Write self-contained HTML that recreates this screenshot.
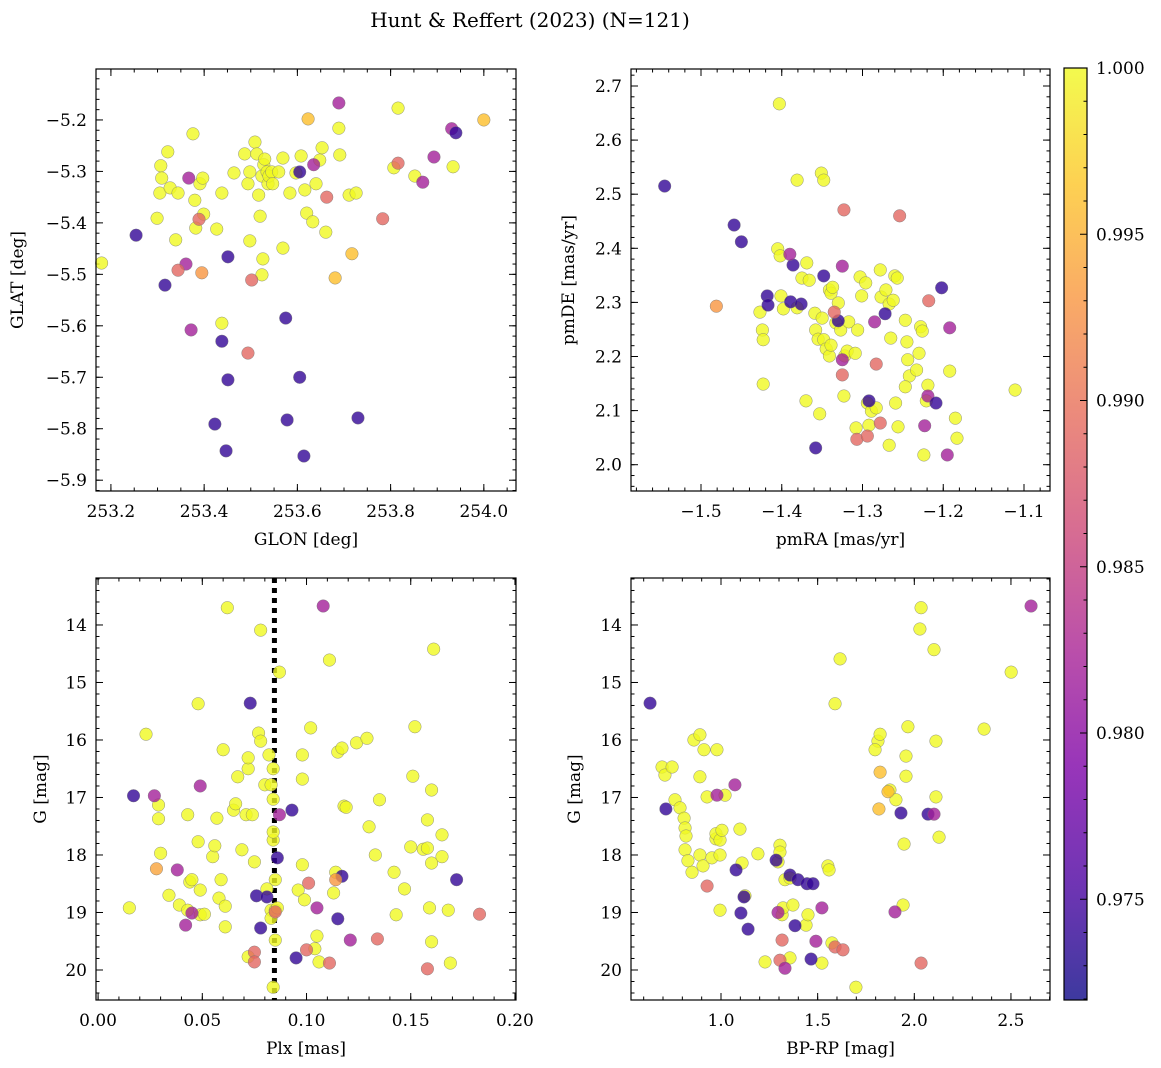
<!DOCTYPE html>
<html><head><meta charset="utf-8">
<style>
html,body{margin:0;padding:0;background:#fff;}
svg{display:block;font-family:"DejaVu Serif","Liberation Serif",serif;}
</style></head>
<body>
<svg id="fig" width="1161" height="1068" viewBox="0 0 1161 1068" xmlns="http://www.w3.org/2000/svg">
<defs>
<linearGradient id="plasma" x1="0" y1="1" x2="0" y2="0">
<stop offset="0" stop-color="#0d0887"/><stop offset="0.125" stop-color="#4c02a1"/><stop offset="0.25" stop-color="#7e03a8"/><stop offset="0.375" stop-color="#a92395"/><stop offset="0.5" stop-color="#cc4778"/><stop offset="0.625" stop-color="#e66c5c"/><stop offset="0.75" stop-color="#f89540"/><stop offset="0.875" stop-color="#fdc527"/><stop offset="1" stop-color="#f0f921"/>
</linearGradient>
</defs>
<text x="530" y="27" font-size="20" text-anchor="middle">Hunt &amp; Reffert (2023) (N=121)</text>
</svg>
<script>
// ---- data (probability classes: P=0.974, M=0.982, S=0.989, O=0.996, Y=1.0) ----
const glonY=[253.305,253.299,253.307,253.309,253.322,253.327,253.344,253.339,253.376,253.380,253.382,253.391,253.397,253.399,253.427,253.438,253.438,253.464,253.487,253.494,253.498,253.498,253.509,253.513,253.517,253.520,253.524,253.528,253.530,253.535,253.537,253.539,253.545,253.547,253.560,253.569,253.526,253.524,253.569,253.584,253.597,253.608,253.616,253.620,253.633,253.640,253.648,253.653,253.661,253.689,253.691,253.711,253.726,253.807,253.816,253.852,253.934,253.18];
const glatY=[-5.342,-5.391,-5.289,-5.313,-5.262,-5.332,-5.342,-5.433,-5.227,-5.356,-5.410,-5.324,-5.313,-5.383,-5.412,-5.342,-5.595,-5.303,-5.266,-5.324,-5.301,-5.435,-5.243,-5.266,-5.346,-5.387,-5.309,-5.287,-5.276,-5.301,-5.324,-5.309,-5.301,-5.324,-5.301,-5.274,-5.470,-5.501,-5.449,-5.342,-5.303,-5.270,-5.336,-5.381,-5.398,-5.324,-5.278,-5.254,-5.418,-5.216,-5.268,-5.346,-5.342,-5.293,-5.177,-5.309,-5.291,-5.478];
const glonC=[253.254,253.316,253.367,253.372,253.361,253.344,253.389,253.395,253.451,253.438,253.451,253.423,253.447,253.494,253.502,253.575,253.578,253.605,253.614,253.605,253.635,253.663,253.689,253.730,253.783,253.816,253.869,253.893,253.931,253.940,254.000,253.623,253.717,253.681];
const glatC=[-5.424,-5.521,-5.313,-5.608,-5.480,-5.492,-5.393,-5.497,-5.466,-5.630,-5.705,-5.791,-5.843,-5.653,-5.511,-5.585,-5.783,-5.700,-5.853,-5.301,-5.287,-5.350,-5.167,-5.779,-5.392,-5.284,-5.321,-5.272,-5.217,-5.225,-5.200,-5.198,-5.460,-5.507];
const probC1=[0.974,0.974,0.982,0.982,0.982,0.989,0.989,0.993,0.974,0.974,0.974,0.974,0.974,0.989,0.989,0.974,0.974,0.974,0.974,0.974,0.982,0.989,0.982,0.974,0.989,0.989,0.982,0.982,0.982,0.974,0.996,0.996,0.996,0.996];

const pmraY=[-1.403,-1.381,-1.351,-1.348,-1.405,-1.402,-1.427,-1.424,-1.423,-1.423,-1.401,-1.398,-1.381,-1.369,-1.375,-1.366,-1.359,-1.358,-1.355,-1.350,-1.348,-1.345,-1.341,-1.339,-1.341,-1.339,-1.337,-1.333,-1.330,-1.327,-1.322,-1.317,-1.319,-1.309,-1.306,-1.303,-1.301,-1.296,-1.294,-1.289,-1.278,-1.277,-1.271,-1.267,-1.265,-1.260,-1.257,-1.247,-1.245,-1.244,-1.242,-1.247,-1.259,-1.256,-1.267,-1.228,-1.226,-1.230,-1.233,-1.219,-1.221,-1.224,-1.192,-1.185,-1.183,-1.111,-1.370,-1.353,-1.323,-1.283,-1.292,-1.308,-1.262];
const pmdeY=[2.667,2.526,2.539,2.526,2.399,2.386,2.282,2.249,2.231,2.149,2.312,2.288,2.290,2.373,2.345,2.341,2.280,2.249,2.232,2.271,2.231,2.214,2.201,2.221,2.323,2.317,2.328,2.262,2.299,2.249,2.201,2.264,2.210,2.206,2.249,2.347,2.312,2.336,2.114,2.099,2.360,2.310,2.323,2.297,2.234,2.349,2.345,2.267,2.227,2.194,2.164,2.144,2.114,2.070,2.036,2.255,2.247,2.206,2.175,2.147,2.118,2.018,2.173,2.086,2.049,2.138,2.118,2.094,2.127,2.105,2.073,2.068,2.304];
const pmraC=[-1.545,-1.459,-1.450,-1.418,-1.417,-1.389,-1.386,-1.390,-1.376,-1.348,-1.330,-1.292,-1.272,-1.202,-1.219,-1.209,-1.223,-1.195,-1.192,-1.358,-1.481,-1.323,-1.254,-1.218,-1.325,-1.283,-1.307,-1.294,-1.278,-1.335,-1.325,-1.285,-1.325];
const pmdeC=[2.515,2.443,2.412,2.312,2.295,2.301,2.369,2.389,2.297,2.349,2.266,2.118,2.279,2.327,2.127,2.114,2.072,2.018,2.253,2.031,2.293,2.471,2.460,2.303,2.166,2.186,2.047,2.053,2.077,2.282,2.367,2.264,2.194];
const probC2=[0.974,0.974,0.974,0.974,0.974,0.974,0.974,0.982,0.974,0.974,0.974,0.974,0.974,0.974,0.982,0.974,0.982,0.982,0.982,0.974,0.993,0.989,0.989,0.989,0.989,0.989,0.989,0.989,0.989,0.989,0.982,0.982,0.982];

const plxY=[0.015,0.023,0.029,0.029,0.030,0.034,0.039,0.043,0.043,0.044,0.045,0.048,0.048,0.049,0.049,0.051,0.055,0.056,0.057,0.058,0.059,0.060,0.061,0.061,0.062,0.065,0.066,0.067,0.069,0.071,0.072,0.072,0.072,0.074,0.075,0.077,0.078,0.078,0.080,0.081,0.082,0.083,0.083,0.083,0.084,0.084,0.084,0.084,0.085,0.084,0.085,0.085,0.086,0.087,0.096,0.098,0.098,0.098,0.099,0.102,0.104,0.106,0.105,0.111,0.113,0.114,0.115,0.117,0.118,0.119,0.124,0.129,0.130,0.133,0.135,0.142,0.143,0.147,0.150,0.151,0.152,0.156,0.158,0.158,0.159,0.160,0.160,0.160,0.161,0.165,0.165,0.168,0.169];
const gY3=[18.92,15.90,17.13,17.37,17.97,18.70,18.87,18.96,17.30,18.47,18.43,17.77,15.37,19.04,18.61,19.03,18.03,17.84,17.36,18.75,18.43,16.17,18.89,19.25,13.70,17.22,17.11,16.64,17.91,17.30,16.50,19.77,16.31,17.30,18.12,15.88,14.09,16.02,16.78,18.59,16.26,16.78,18.96,19.10,17.74,17.60,16.50,17.03,18.43,20.30,18.96,19.48,18.92,14.82,18.61,16.26,16.68,18.17,18.78,15.79,19.63,19.86,19.41,14.61,18.66,18.30,16.21,16.14,17.15,17.17,16.05,15.97,17.51,18.00,17.04,18.30,19.04,18.59,17.86,16.63,15.77,17.90,17.39,17.88,18.92,16.87,18.14,19.51,14.42,17.65,18.03,18.96,19.88];
const plxC=[0.017,0.027,0.028,0.038,0.042,0.045,0.049,0.073,0.075,0.075,0.076,0.078,0.081,0.085,0.087,0.086,0.093,0.095,0.101,0.100,0.105,0.108,0.111,0.117,0.115,0.121,0.114,0.134,0.158,0.172,0.183];
const gC3=[16.97,16.97,18.24,18.26,19.22,19.01,16.80,15.36,19.69,19.86,18.71,19.27,18.73,18.99,17.30,18.05,17.22,19.79,18.49,19.65,18.92,13.67,19.88,18.37,19.11,19.48,18.43,19.46,19.98,18.43,19.03];
const probC3=[0.974,0.982,0.994,0.982,0.982,0.982,0.982,0.974,0.989,0.989,0.974,0.974,0.974,0.989,0.982,0.974,0.974,0.974,0.989,0.989,0.982,0.982,0.989,0.974,0.974,0.982,0.993,0.989,0.989,0.974,0.989];
const plxMedian=0.0846;

const bprpY=[0.695,0.710,0.747,0.762,0.788,0.809,0.814,0.819,0.814,0.829,0.850,0.860,0.891,0.891,0.912,0.928,0.891,0.907,0.953,0.974,0.974,0.979,0.995,0.995,0.995,1.005,1.021,1.098,1.109,1.124,1.191,1.228,1.295,1.305,1.305,1.316,1.321,1.331,1.357,1.357,1.372,1.440,1.450,1.522,1.553,1.559,1.574,1.590,1.616,1.812,1.797,1.823,1.874,1.947,1.942,1.957,1.957,1.967,2.035,2.029,2.102,2.112,2.112,2.128,2.361,2.501,1.905,1.698];
const gY4=[16.47,16.61,16.47,17.04,17.18,17.36,17.53,17.67,17.91,18.10,18.30,16.00,15.91,16.64,16.17,16.99,18.00,18.19,18.05,17.72,17.63,16.17,17.74,18.00,18.96,17.57,16.96,17.55,18.14,18.71,17.98,19.86,18.12,17.83,17.95,19.04,18.92,18.43,19.79,18.40,18.87,19.22,19.04,19.88,18.19,18.26,19.53,15.37,14.59,16.02,16.17,15.90,16.87,17.81,18.87,16.28,16.63,15.77,13.70,14.07,14.43,16.02,16.99,17.69,15.81,14.82,17.04,20.30];
const bprpC=[0.633,0.715,0.979,1.072,0.928,1.078,1.119,1.103,1.140,1.285,1.357,1.398,1.445,1.476,1.466,1.383,1.295,1.522,1.491,1.316,1.305,1.331,1.590,1.631,2.071,2.102,1.931,1.900,2.035,2.604,1.823,1.864,1.817];
const gC4=[15.36,17.20,16.96,16.78,18.54,18.26,18.73,19.01,19.29,18.09,18.35,18.43,18.50,18.50,19.81,19.23,19.00,18.92,19.50,19.48,19.83,19.97,19.60,19.65,17.29,17.29,17.27,18.99,19.88,13.67,16.56,16.90,17.20];
const probC4=[0.974,0.974,0.982,0.982,0.989,0.974,0.974,0.974,0.974,0.974,0.974,0.974,0.974,0.974,0.974,0.974,0.982,0.982,0.982,0.989,0.989,0.982,0.989,0.989,0.974,0.982,0.974,0.982,0.989,0.982,0.996,0.996,0.996];

const cbTicks=["0.975","0.980","0.985","0.990","0.995","1.000"];
const VMIN=0.97197, VMAX=1.0;

const NS="http://www.w3.org/2000/svg";
const svg=document.getElementById('fig');
function el(tag,attrs,parent){const e=document.createElementNS(NS,tag);for(const k in attrs)e.setAttribute(k,attrs[k]);(parent||svg).appendChild(e);return e;}
const stops=[[13,8,135],[76,2,161],[126,3,168],[169,35,149],[204,71,120],[230,108,92],[248,149,64],[253,197,39],[240,249,33]];
function plasma(p){let t=(p-VMIN)/(VMAX-VMIN);t=Math.max(0,Math.min(1,t));const f=t*8,i=Math.min(7,Math.floor(f)),r=f-i;const a=stops[i],b=stops[i+1];return `rgb(${a.map((v,k)=>Math.round(v+(b[k]-v)*r)).join(',')})`;}
function fmt(v,d){let s=v.toFixed(d);if(Math.abs(v)<1e-9)s=(0).toFixed(d);return s.replace('-','\u2212');}

function panel(cfg){
  const {x0,y0,x1,y1,xmin,xmax,ymin,ymax,name}=cfg;
  const g=el('g',{});
  
  
  const sx=v=>x0+(v-xmin)/(xmax-xmin)*(x1-x0);
  const sy=v=>y1-(v-ymin)/(ymax-ymin)*(y1-y0);
  const ticks=(a,b,step)=>{const lo=Math.min(a,b),hi=Math.max(a,b);const out=[];let s=Math.ceil(lo/step-1e-9);for(let v=s*step;v<=hi+1e-9;v=(++s)*step)out.push(v);return out;};
  const tg=el('g',{stroke:'#000','stroke-width':1},g);
  
  
  ticks(xmin,xmax,cfg.xminor).forEach(v=>{const x=sx(v);el('line',{x1:x,x2:x,y1:y1,y2:y1-3.5},tg);el('line',{x1:x,x2:x,y1:y0,y2:y0+3.5},tg);});
  ticks(ymin,ymax,cfg.yminor).forEach(v=>{const y=sy(v);el('line',{x1:x0,x2:x0+3.5,y1:y,y2:y},tg);el('line',{x1:x1,x2:x1-3.5,y1:y,y2:y},tg);});
  ticks(xmin,xmax,cfg.xmajor).forEach(v=>{const x=sx(v);el('line',{x1:x,x2:x,y1:y1,y2:y1-7},tg);el('line',{x1:x,x2:x,y1:y0,y2:y0+7},tg);
    const t=el('text',{x:x,y:y1+26,'font-size':17,'text-anchor':'middle'},g);t.textContent=fmt(v,cfg.xdec);
    
    });
  ticks(ymin,ymax,cfg.ymajor).forEach(v=>{const y=sy(v);el('line',{x1:x0,x2:x0+7,y1:y,y2:y},tg);el('line',{x1:x1,x2:x1-7,y1:y,y2:y},tg);
    const t=el('text',{x:x0-9,y:y+6,'font-size':17,'text-anchor':'end'},g);t.textContent=fmt(v,cfg.ydec);
    
    });
  if(cfg.vline!==undefined){const l=el('line',{x1:sx(cfg.vline),x2:sx(cfg.vline),y1:y0,y2:y1,stroke:'#000','stroke-width':5,'stroke-dasharray':'5,5'},g);
    
    }
  const pg=el('g',{},g);
  
  
  const draw=(xs,ys,ps)=>xs.forEach((xv,i)=>{const c=el('circle',{cx:sx(xv),cy:sy(ys[i]),r:6.3,fill:plasma(ps?ps[i]:1.0),'fill-opacity':0.8,stroke:'#777','stroke-width':0.5,'stroke-opacity':0.8},pg);
    
    });
  draw(cfg.xs,cfg.ys,null);
  draw(cfg.xc,cfg.yc,cfg.pc);
  const fr=el('rect',{x:x0,y:y0,width:x1-x0,height:y1-y0,fill:'none',stroke:'#000','stroke-width':1.2},g);
  
  
  const xl=el('text',{x:(x0+x1)/2,y:y1+54,'font-size':17,'text-anchor':'middle'},g);xl.textContent=cfg.xlabel;
  
  
  const yx=cfg.ylabx, yy=(y0+y1)/2;
  const yl=el('text',{x:yx,y:yy,'font-size':17,'text-anchor':'middle',transform:`rotate(-90 ${yx} ${yy})`},g);yl.textContent=cfg.ylabel;
  
  
}

panel({name:'glon-glat-panel',x0:96,y0:69,x1:516,y1:491,xmin:253.168,xmax:254.069,ymin:-5.921,ymax:-5.101,xmajor:0.2,xminor:0.05,ymajor:0.1,yminor:0.02,xdec:1,ydec:1,xlabel:'GLON [deg]',ylabel:'GLAT [deg]',ylabx:23,xs:glonY,ys:glatY,xc:glonC,yc:glatC,pc:probC1});
panel({name:'proper-motion-panel',x0:631,y0:69,x1:1050,y1:491,xmin:-1.5867,xmax:-1.0678,ymin:1.9514,ymax:2.7314,xmajor:0.1,xminor:0.02,ymajor:0.1,yminor:0.02,xdec:1,ydec:1,xlabel:'pmRA [mas/yr]',ylabel:'pmDE [mas/yr]',ylabx:574,xs:pmraY,ys:pmdeY,xc:pmraC,yc:pmdeC,pc:probC2});
panel({name:'parallax-mag-panel',x0:96,y0:578,x1:516,y1:1000,xmin:-0.001,xmax:0.2005,ymin:20.522,ymax:13.183,xmajor:0.05,xminor:0.01,ymajor:1,yminor:0.2,xdec:2,ydec:0,xlabel:'Plx [mas]',ylabel:'G [mag]',ylabx:46,xs:plxY,ys:gY3,xc:plxC,yc:gC3,pc:probC3,vline:plxMedian});
panel({name:'cmd-panel',x0:631,y0:578,x1:1050,y1:1000,xmin:0.5344,xmax:2.702,ymin:20.522,ymax:13.183,xmajor:0.5,xminor:0.1,ymajor:1,yminor:0.2,xdec:1,ydec:0,xlabel:'BP-RP [mag]',ylabel:'G [mag]',ylabx:580,xs:bprpY,ys:gY4,xc:bprpC,yc:gC4,pc:probC4});

// colorbar
(function(){
  const cx0=1064,cx1=1087,cy0=68,cy1=1000;
  const g=el('g',{});
  
  
  el('rect',{x:cx0,y:cy0,width:cx1-cx0,height:cy1-cy0,fill:'url(#plasma)','fill-opacity':0.8},g);
  el('rect',{x:cx0,y:cy0,width:cx1-cx0,height:cy1-cy0,fill:'none',stroke:'#000','stroke-width':1.2},g);
  const cy=v=>cy1-(v-VMIN)/(VMAX-VMIN)*(cy1-cy0);
  for(let k=972;k<=1000;k++){const v=k/1000;const y=cy(v);el('line',{x1:cx1,x2:cx1-(k%5===0?7:3.5),y1:y,y2:y,stroke:'#000'},g);}
  cbTicks.forEach(s=>{const y=cy(parseFloat(s));const t=el('text',{x:cx1+9,y:y+6,'font-size':17},g);t.textContent=s;
    
    });
})();
</script>
</body></html>
